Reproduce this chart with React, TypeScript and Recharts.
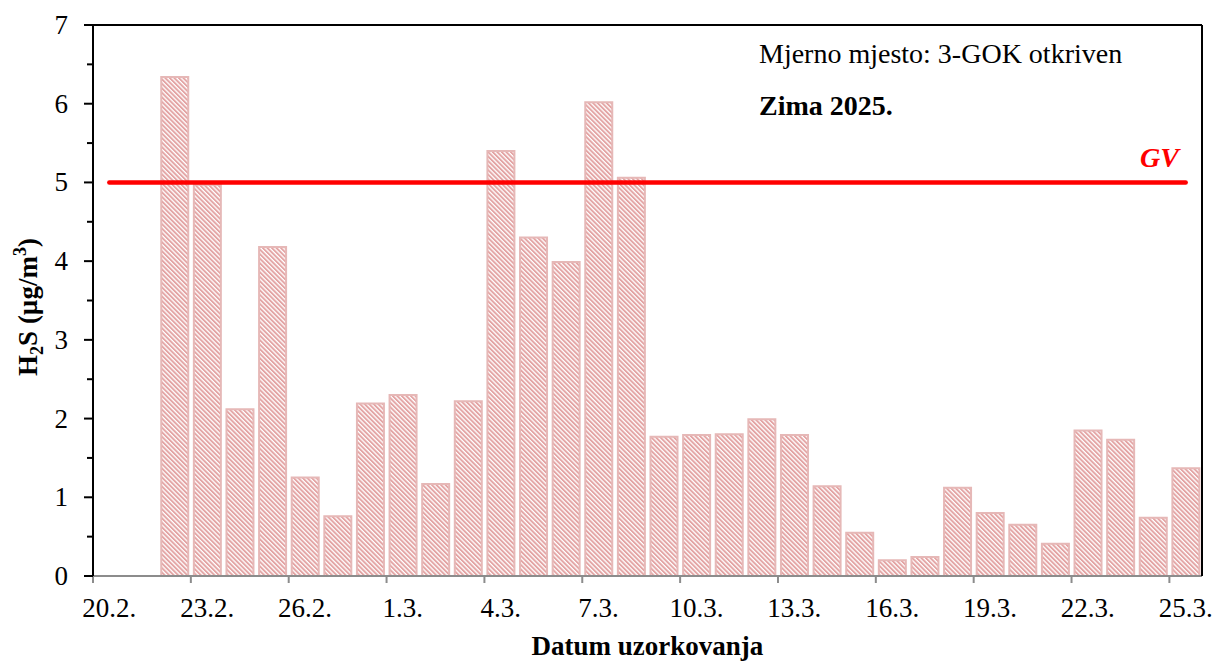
import React from 'react';
import { ComposedChart, Bar, Line, XAxis, YAxis, Label } from 'recharts';

const dateLabels = [
  '20.2.', '21.2.', '22.2.', '23.2.', '24.2.', '25.2.', '26.2.', '27.2.', '28.2.',
  '1.3.', '2.3.', '3.3.', '4.3.', '5.3.', '6.3.', '7.3.', '8.3.', '9.3.', '10.3.',
  '11.3.', '12.3.', '13.3.', '14.3.', '15.3.', '16.3.', '17.3.', '18.3.', '19.3.',
  '20.3.', '21.3.', '22.3.', '23.3.', '24.3.', '25.3.',
];

const h2sValues: (number | null)[] = [
  null, null, 6.34, 4.97, 2.12, 4.18, 1.25, 0.76, 2.19,
  2.30, 1.17, 2.22, 5.40, 4.30, 3.99, 6.02, 5.06, 1.77, 1.79,
  1.80, 1.99, 1.79, 1.14, 0.55, 0.20, 0.24, 1.12, 0.80,
  0.65, 0.41, 1.85, 1.73, 0.74, 1.37,
];

const GV_LIMIT = 5;

const xTickLabels = ['20.2.', '23.2.', '26.2.', '1.3.', '4.3.', '7.3.', '10.3.', '13.3.', '16.3.', '19.3.', '22.3.', '25.3.'];
const yTicks = [0, 0.5, 1, 1.5, 2, 2.5, 3, 3.5, 4, 4.5, 5, 5.5, 6, 6.5, 7];

const data = dateLabels.map((d, i) => ({ date: d, h2s: h2sValues[i], gv: GV_LIMIT }));

const FONT = "Liberation Serif";
const X_TICK_SIZE = 7;
const Y_TICK_SIZE = 9;
const Y_TICK_MARGIN = 16;

const XTick = (props: any) => {
  const { x, y, payload } = props;
  if (!xTickLabels.includes(payload.value)) return null;
  const off = payload.offset ?? 0;
  const axisY = y - X_TICK_SIZE;
  return (
    <g>
      <line x1={x - off} x2={x - off} y1={axisY} y2={axisY + 7} stroke="#8c8c8c" strokeWidth={2} />
      <text x={x} y={axisY + 41} textAnchor="middle" fontSize={27} fontFamily={FONT} fill="#000">
        {payload.value}
      </text>
    </g>
  );
};

const YTick = (props: any) => {
  const { x, y, payload } = props;
  const axisX = x + Y_TICK_SIZE + Y_TICK_MARGIN;
  const major = Number.isInteger(payload.value);
  return (
    <g>
      <line x1={axisX - (major ? 9 : 6)} x2={axisX} y1={y} y2={y} stroke="#000" strokeWidth={2} />
      {major && (
        <text x={axisX - 25} y={y + 9} textAnchor="end" fontSize={27} fontFamily={FONT} fill="#000">
          {payload.value}
        </text>
      )}
    </g>
  );
};

const renderYLabel = (props: any) => {
  const vb = props.viewBox || { x: 0, y: 25, width: 93, height: 551 };
  const cx = vb.x + 37;
  const cy = vb.y + vb.height / 2 + 6.5;
  return (
    <text
      transform={`translate(${cx},${cy}) rotate(-90)`}
      textAnchor="middle"
      fontSize={27}
      fontWeight="bold"
      fontFamily={FONT}
      fill="#000"
    >
      <tspan>H</tspan>
      <tspan fontSize={18} dy={6}>2</tspan>
      <tspan dy={-6}>S (µg/m</tspan>
      <tspan fontSize={18} dy={-11}>3</tspan>
      <tspan dy={11}>)</tspan>
    </text>
  );
};

const renderXLabel = (props: any) => {
  const vb = props.viewBox || { x: 93, y: 576, width: 1109, height: 85 };
  return (
    <text
      x={vb.x + vb.width / 2}
      y={vb.y + vb.height - 6}
      textAnchor="middle"
      fontSize={27}
      fontWeight="bold"
      fontFamily={FONT}
      fill="#000"
    >
      Datum uzorkovanja
    </text>
  );
};

export default function App() {
  return (
    <div style={{ position: 'absolute', left: 0, top: 0, width: 1214, height: 661, background: '#fff' }}>
      <ComposedChart
        width={1214}
        height={661}
        data={data}
        margin={{ top: 24, right: 11, bottom: 0, left: 0 }}
      >
        <defs>
          <pattern id="hatch" patternUnits="userSpaceOnUse" width="3.2" height="3.2" patternTransform="rotate(-45)">
            <rect x="0" y="0" width="3.2" height="3.2" fill="#ffffff" />
            <rect x="0" y="0" width="1.9" height="3.2" fill="#e3a4a4" />
          </pattern>
        </defs>
        <XAxis
          dataKey="date"
          type="category"
          height={85}
          interval={0}
          tickSize={X_TICK_SIZE}
          tickMargin={0}
          tickLine={false}
          axisLine={{ stroke: '#8c8c8c', strokeWidth: 2 }}
          tick={XTick}
        >
          <Label content={renderXLabel} />
        </XAxis>
        <XAxis
          xAxisId="top"
          dataKey="date"
          orientation="top"
          height={1}
          tick={false}
          tickLine={false}
          axisLine={{ stroke: '#000', strokeWidth: 2 }}
        />
        <YAxis
          width={93}
          domain={[0, 7]}
          ticks={yTicks}
          interval={0}
          tickSize={Y_TICK_SIZE}
          tickMargin={Y_TICK_MARGIN}
          tickLine={false}
          axisLine={{ stroke: '#000', strokeWidth: 2 }}
          tick={YTick}
        >
          <Label content={renderYLabel} />
        </YAxis>
        <YAxis
          yAxisId="right"
          orientation="right"
          width={1}
          domain={[0, 7]}
          tick={false}
          tickLine={false}
          axisLine={{ stroke: '#000', strokeWidth: 2 }}
        />
        <Bar
          dataKey="h2s"
          barSize={27}
          fill="url(#hatch)"
          stroke="#e6b8b7"
          strokeWidth={2}
          isAnimationActive={false}
        />
        <Line
          dataKey="gv"
          type="linear"
          stroke="#ff0000"
          strokeWidth={4.5}
          strokeLinecap="round"
          dot={false}
          activeDot={false}
          isAnimationActive={false}
        />
      </ComposedChart>
      <svg
        width={1214}
        height={661}
        style={{ position: 'absolute', left: 0, top: 0, pointerEvents: 'none' }}
      >
        <text x={759} y={63} fontSize={28} fontFamily={FONT} fill="#000">
          Mjerno mjesto: 3-GOK otkriven
        </text>
        <text x={759} y={115} fontSize={28} fontWeight="bold" fontFamily={FONT} fill="#000">
          Zima 2025.
        </text>
        <text x={1179} y={167} fontSize={28} fontWeight="bold" fontStyle="italic" textAnchor="end" fontFamily={FONT} fill="#ff0000">
          GV
        </text>
      </svg>
    </div>
  );
}
